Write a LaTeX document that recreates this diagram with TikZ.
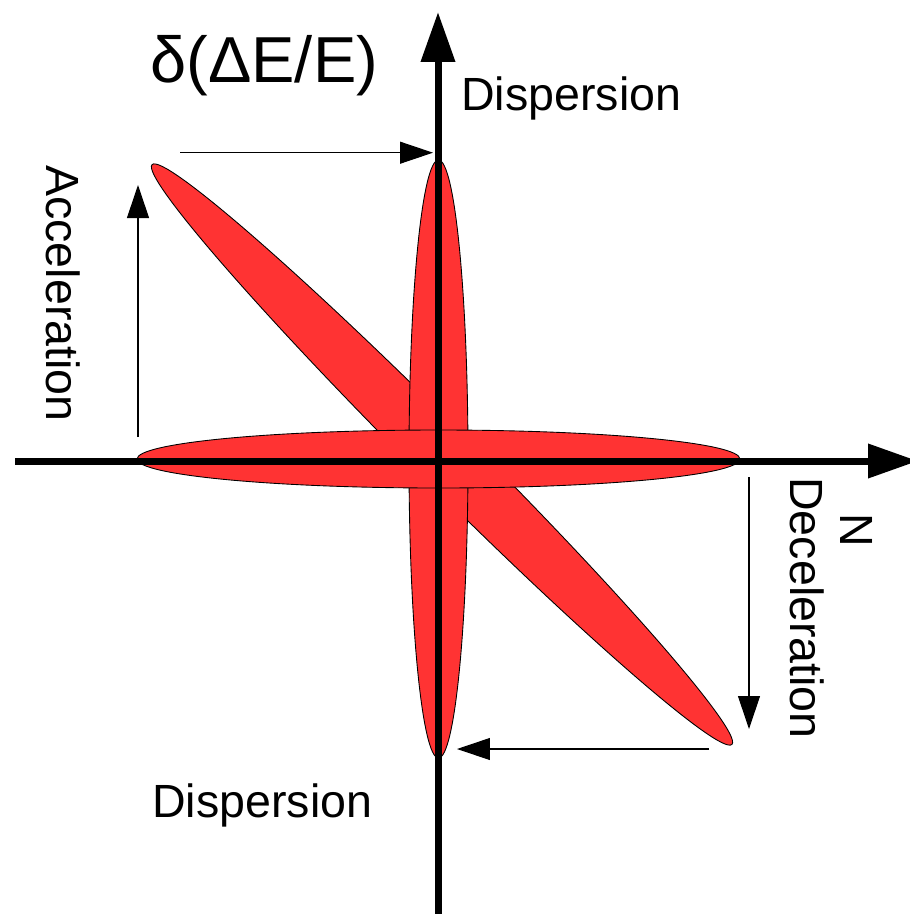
\documentclass[tikz,border=0pt]{standalone}
\usepackage{fontspec}
\setmainfont{Liberation Sans}
\usetikzlibrary{arrows.meta}
\definecolor{bunchred}{HTML}{FF3333}

\begin{document}
\begin{tikzpicture}[
  x=0.02cm, y=-0.02cm,
  axis/.style={line width=0.14cm, -{Triangle[length=1cm, width=0.66cm]}},
  kick/.style={line width=0.6pt, -{Triangle[length=0.66cm, width=0.44cm]}},
  bunch/.style={draw=black, line width=0.5pt, fill=bunchred},
  lbl/.style={inner sep=0pt, anchor=base west, font=\fontsize{26.5}{30}\selectfont},
  biglbl/.style={lbl, font=\fontsize{37}{42}\selectfont}
]
\useasboundingbox (0,0) rectangle (910,914);
\draw[bunch, shift={(442,454.5)}, rotate=-45] (0,0) ellipse (410 and 29);
\draw[bunch] (438.5,459) ellipse (29.5 and 299);
\draw[bunch] (438.5,459) ellipse (301.5 and 29);

\coordinate (xl) at (15,461);
\coordinate (xr) at (918,461);
\coordinate (yb) at (438,920);
\coordinate (yt) at (438,12);
\draw[axis] (xl) -- (xr);
\draw[axis] (yb) -- (yt);

\coordinate (tops) at (180,152.7);
\coordinate (tope) at (433,152.7);
\coordinate (accs) at (138,437);
\coordinate (acce) at (138,185);
\coordinate (decs) at (749,477);
\coordinate (dece) at (749,729);
\coordinate (bots) at (709,749);
\coordinate (bote) at (457,749);
\foreach \a/\b in {tops/tope, accs/acce, decs/dece, bots/bote}
  \draw[kick] (\a) -- (\b);

\node[biglbl] (dee) at (150,82) {δ(ΔE/E)};
\node[lbl] (disptop) at (461,110) {Dispersion};
\node[lbl] (dispbot) at (152,817) {Dispersion};
\node[lbl, rotate=-90] (acc) at (47,165) {Acceleration};
\node[lbl, rotate=-90] (dec) at (790,477) {Deceleration};
\node[lbl, rotate=-90] (enn) at (840,513) {N};
\end{tikzpicture}
\end{document}
